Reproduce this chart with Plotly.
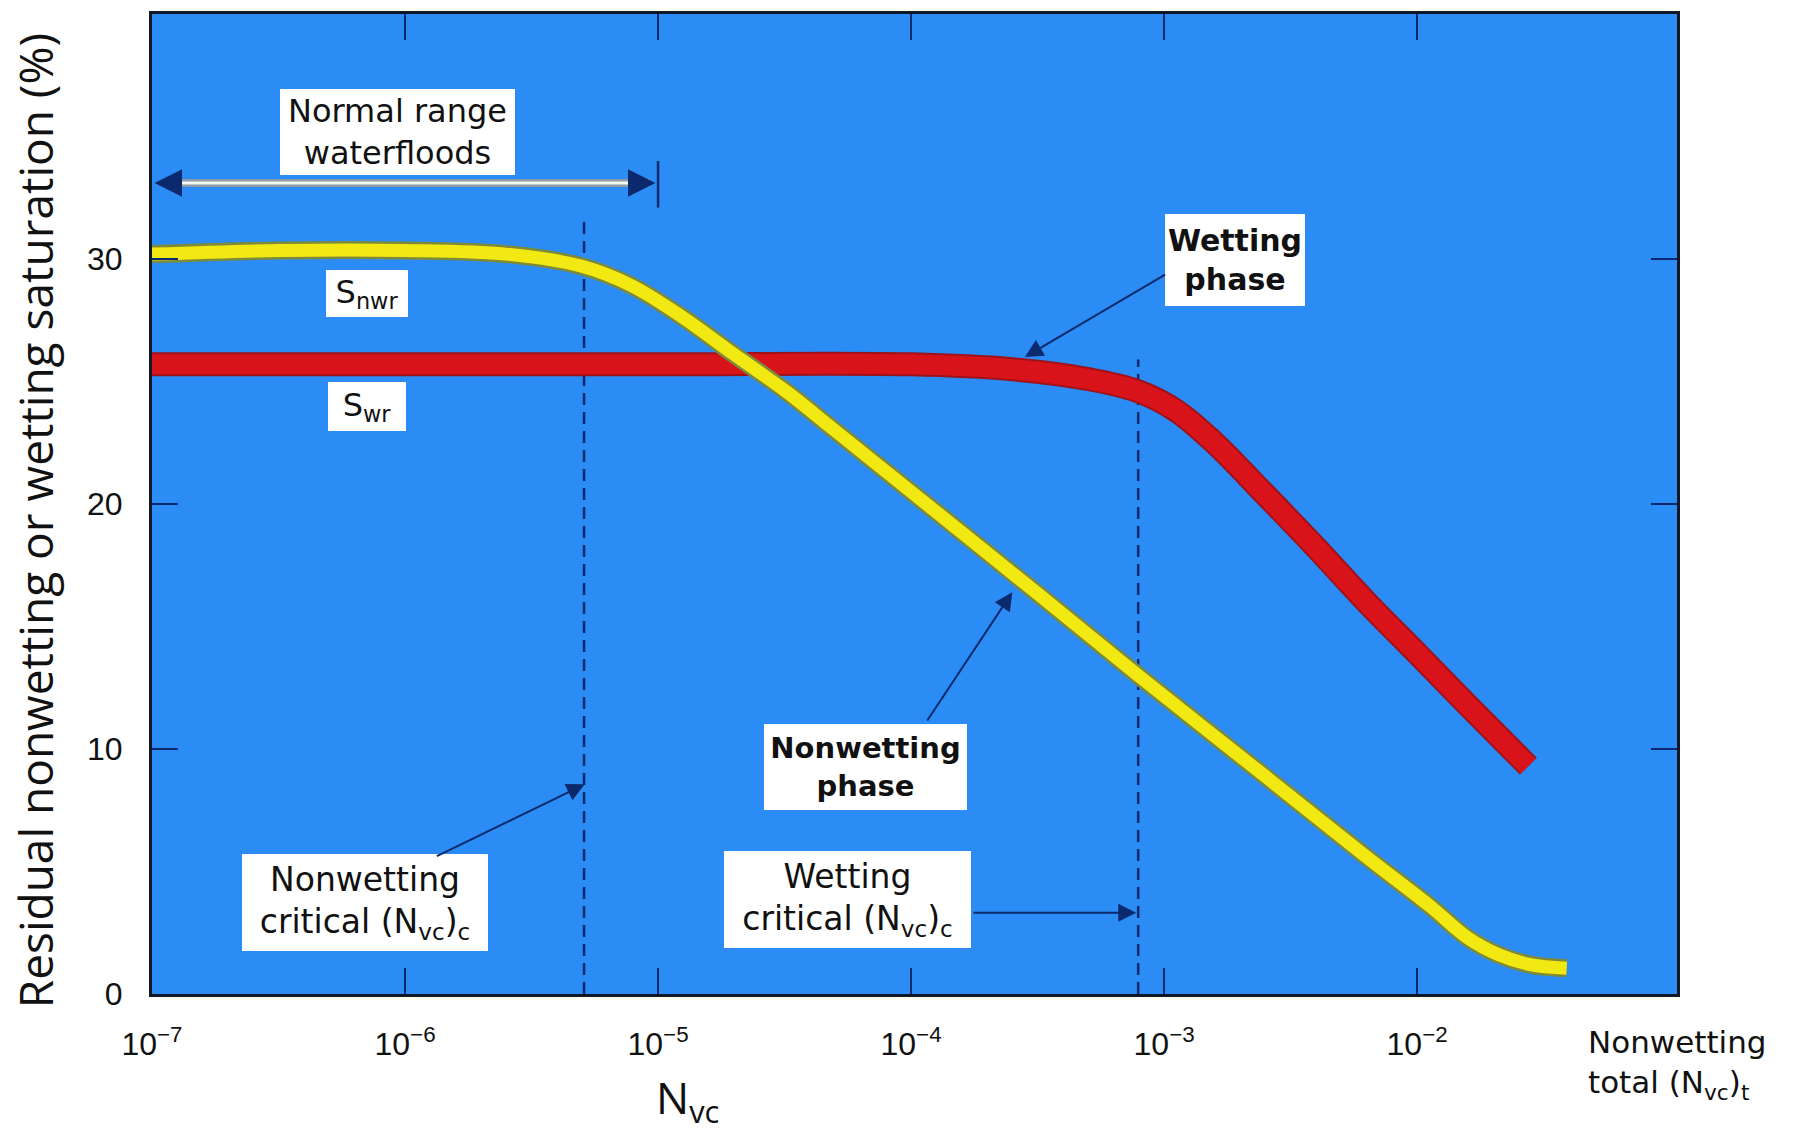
import plotly.graph_objects as go

# Capillary number (Nvc) and residual saturations (%)
nw_nvc = [1.0e-7, 3.2e-7, 1.0e-6, 2.5e-6, 5.0e-6, 7.9e-6, 1.26e-5, 2.0e-5, 3.2e-5,
          5.0e-5, 1.0e-4, 3.2e-4, 7.9e-4, 2.5e-3, 6.3e-3, 1.12e-2, 1.58e-2,
          2.1e-2, 2.8e-2, 3.9e-2]
nw_sat = [30.2, 30.35, 30.35, 30.2, 29.7, 28.9, 27.6, 26.1, 24.6,
          23.0, 20.5, 16.3, 13.0, 8.9, 5.6, 3.6, 2.3,
          1.6, 1.2, 1.05]

w_nvc = [1.0e-7, 1.0e-6, 1.0e-5, 1.0e-4, 2.5e-4, 5.0e-4, 7.9e-4, 1.12e-3, 1.58e-3,
         2.5e-3, 4.0e-3, 6.3e-3, 1.0e-2, 1.58e-2, 2.75e-2]
w_sat = [25.7, 25.7, 25.7, 25.7, 25.5, 25.1, 24.6, 23.8, 22.5,
         20.4, 18.2, 16.0, 13.9, 11.8, 9.3]

# Critical capillary numbers
nw_critical = 5.1e-6
w_critical = 7.9e-4

x_tickvals = [1e-7, 1e-6, 1e-5, 1e-4, 1e-3, 1e-2]
x_ticktext = ["10<sup>−7</sup>", "10<sup>−6</sup>", "10<sup>−5</sup>",
              "10<sup>−4</sup>", "10<sup>−3</sup>", "10<sup>−2</sup>"]
y_tickvals = [0, 10, 20, 30]

BLUE = "#2a8cf4"
NAVY = "#0b2a6e"
TICK_FONT = "Liberation Sans, Arial, sans-serif"
BOX_FONT = "DejaVu Sans, Verdana, sans-serif"

fig = go.Figure()

# Critical capillary number markers
fig.add_trace(go.Scatter(x=[nw_critical, nw_critical], y=[0, 31.6], mode="lines",
                         line=dict(color=NAVY, width=2.5, dash="12px,7px"), hoverinfo="skip"))
fig.add_trace(go.Scatter(x=[w_critical, w_critical], y=[0, 25.9], mode="lines",
                         line=dict(color=NAVY, width=2.5, dash="12px,7px"), hoverinfo="skip"))

# Normal range of waterfloods (shaft + end bar)
fig.add_trace(go.Scatter(x=[1.1e-7, 9.3e-6], y=[33.1, 33.1], mode="lines",
                         line=dict(color="#8f9aa8", width=8), hoverinfo="skip"))
fig.add_trace(go.Scatter(x=[1.1e-7, 9.3e-6], y=[33.1, 33.1], mode="lines",
                         line=dict(color="#f4f8fb", width=3), hoverinfo="skip"))
fig.add_trace(go.Scatter(x=[1e-5, 1e-5], y=[32.1, 34.0], mode="lines",
                         line=dict(color=NAVY, width=2.5), hoverinfo="skip"))

# Wetting phase residual saturation (red band)
fig.add_trace(go.Scatter(x=w_nvc, y=w_sat, mode="lines", line_shape="spline",
                         line=dict(color="#a0121a", width=24), hoverinfo="skip"))
fig.add_trace(go.Scatter(x=w_nvc, y=w_sat, mode="lines", line_shape="spline",
                         line=dict(color="#d8141a", width=20), hoverinfo="skip"))

# Nonwetting phase residual saturation (yellow band)
fig.add_trace(go.Scatter(x=nw_nvc, y=nw_sat, mode="lines", line_shape="spline",
                         line=dict(color="#7d8a3a", width=18), hoverinfo="skip"))
fig.add_trace(go.Scatter(x=nw_nvc, y=nw_sat, mode="lines", line_shape="spline",
                         line=dict(color="#f2e812", width=13), hoverinfo="skip"))

annotations = []


def box(text, lx, y, w, h, size=32, bold=False):
    if bold:
        text = "<b>" + text + "</b>"
    annotations.append(dict(x=lx, y=y, xref="x", yref="y", text=text, showarrow=False,
                            bgcolor="white", borderpad=0, borderwidth=0, width=w, height=h,
                            font=dict(family=BOX_FONT, size=size, color="#111111"),
                            xanchor="center", yanchor="middle", align="center",
                            valign="middle"))


def arrow(tail_lx, tail_y, tip_lx, tip_y, size=1.8, width=2):
    annotations.append(dict(x=tip_lx, y=tip_y, ax=tail_lx, ay=tail_y,
                            xref="x", yref="y", axref="x", ayref="y", text="",
                            showarrow=True, arrowhead=2, arrowsize=size, arrowwidth=width,
                            arrowcolor=NAVY))


box("Normal range<br>waterfloods", -6.03, 35.2, 235, 86, size=32)
box("S<sub>nwr</sub>", -6.15, 28.6, 82, 47, size=32)
box("S<sub>wr</sub>", -6.15, 24.0, 78, 49, size=32)
box("Wetting<br>phase", -2.72, 29.95, 140, 92, size=30, bold=True)
box("Nonwetting<br>phase", -4.18, 9.27, 203, 86, size=29, bold=True)
box("Nonwetting<br>critical (N<sub>vc</sub>)<sub>c</sub>", -6.16, 3.74, 246, 97, size=33)
box("Wetting<br>critical (N<sub>vc</sub>)<sub>c</sub>", -4.25, 3.84, 247, 97, size=33)

arrow(-2.99, 29.4, -3.55, 26.0)
arrow(-3.94, 11.1, -3.60, 16.4)
arrow(-5.88, 5.6, -5.29, 8.56)
arrow(-3.76, 3.32, -3.11, 3.32)
# Heads of the normal-range arrow
arrow(-6.88, 33.1, -6.99, 33.1, size=2.2, width=2.5)
arrow(-5.12, 33.1, -5.01, 33.1, size=2.2, width=2.5)

# Axis titles
annotations.append(dict(x=-0.077, y=0.483, xref="paper", yref="paper", textangle=-90,
                        text="Residual nonwetting or wetting saturation (%)", showarrow=False,
                        font=dict(family="Open Sans, Noto Sans, sans-serif", size=46, color="#111111"),
                        xanchor="center", yanchor="middle"))
annotations.append(dict(x=0.351, y=-0.108, xref="paper", yref="paper",
                        text="N<sub>vc</sub>", showarrow=False,
                        font=dict(family="Open Sans, Noto Sans, sans-serif", size=44, color="#111111"),
                        xanchor="center", yanchor="middle"))
annotations.append(dict(x=1.0, y=-0.072, xref="paper", yref="paper",
                        text="Nonwetting<br>total (N<sub>vc</sub>)<sub>t</sub>", showarrow=False,
                        font=dict(family=BOX_FONT, size=31, color="#111111"),
                        xanchor="center", yanchor="middle", align="left"))

fig.update_layout(
    width=1795, height=1140,
    margin=dict(l=152, r=118, t=14, b=146),
    paper_bgcolor="white", plot_bgcolor=BLUE,
    showlegend=False,
    annotations=annotations,
    xaxis=dict(type="log", range=[-7, -0.973], tickvals=x_tickvals, ticktext=x_ticktext,
               ticks="inside", ticklen=26, tickwidth=2, tickcolor=NAVY,
               showline=True, linecolor="#101828", linewidth=3, mirror="ticks",
               showgrid=False, zeroline=False, ticklabelstandoff=20,
               tickfont=dict(family=TICK_FONT, size=32, color="#111111")),
    yaxis=dict(range=[0, 40], tickvals=y_tickvals,
               ticks="inside", ticklen=26, tickwidth=2, tickcolor=NAVY,
               showline=True, linecolor="#101828", linewidth=3, mirror="ticks",
               showgrid=False, zeroline=False, ticklabelstandoff=20,
               tickfont=dict(family=TICK_FONT, size=32, color="#111111")),
)

fig.write_html("out.html")
